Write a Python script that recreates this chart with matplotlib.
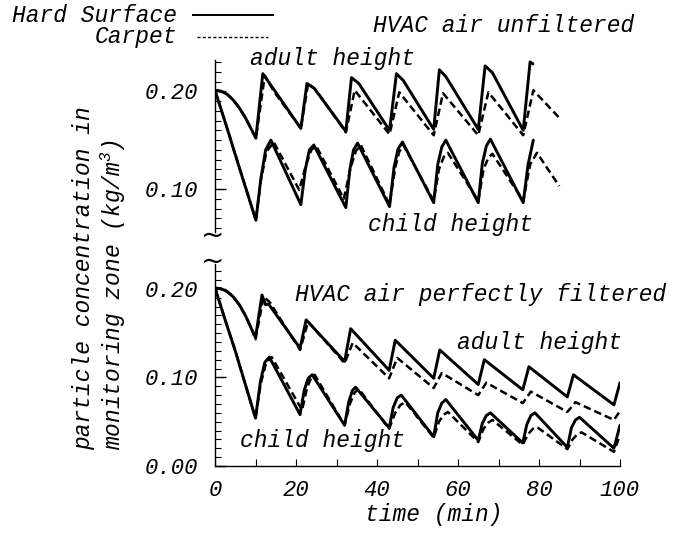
import matplotlib
matplotlib.use('Agg')
import matplotlib.pyplot as plt
from matplotlib.lines import Line2D
from matplotlib.ticker import MultipleLocator, FixedLocator

plt.rcParams['font.family'] = ['Liberation Mono', 'DejaVu Sans']
plt.rcParams['font.style'] = 'italic'
plt.rcParams['mathtext.fontset'] = 'custom'
plt.rcParams['mathtext.it'] = 'Liberation Mono:italic'
plt.rcParams['mathtext.rm'] = 'Liberation Mono:italic'

# ---- top panel: HVAC air unfiltered ----
t_top_adult_hard = [0, 1.5, 3, 4.5, 6, 7.5, 9, 10.1, 11.8, 14.0, 21.2, 22.7, 24.5, 32.3, 33.7, 35.5, 43.1,
                    44.8, 46.5, 54.0, 55.4, 57.0, 65.0, 66.7, 68.5, 76.1, 77.8, 78.5]
c_top_adult_hard = [0.201, 0.200, 0.197, 0.191, 0.183, 0.173, 0.161, 0.152, 0.218, 0.205, 0.162, 0.208,
                    0.203, 0.159, 0.214, 0.208, 0.160, 0.218, 0.211, 0.161, 0.222, 0.215, 0.161, 0.226,
                    0.219, 0.160, 0.230, 0.228]

t_top_adult_carpet = [0, 1.5, 3, 4.5, 6, 7.5, 9, 10.1, 12.3, 14.5, 21.2, 23.0, 24.8, 32.3, 34.5, 43.1,
                      45.5, 54.0, 56.3, 65.0, 67.5, 76.1, 78.6, 85.2]
c_top_adult_carpet = [0.201, 0.200, 0.197, 0.191, 0.183, 0.173, 0.161, 0.152, 0.216, 0.200, 0.162, 0.208,
                      0.202, 0.158, 0.201, 0.156, 0.199, 0.155, 0.198, 0.155, 0.199, 0.155, 0.201, 0.172]

t_top_child_hard = [0, 3, 6, 10.1, 11.3, 12.5, 13.8, 21.2, 22.3, 23.3, 24.4, 32.3, 33.3, 34.2, 35.2,
                    43.1, 44.2, 45.2, 46.3, 54.0, 55.0, 56.0, 57.0, 65.0, 66.0, 67.0, 68.0, 76.1, 77.3, 78.6]
c_top_child_hard = [0.201, 0.162, 0.122, 0.068, 0.110, 0.140, 0.150, 0.084, 0.120, 0.140, 0.145, 0.081,
                    0.120, 0.140, 0.147, 0.082, 0.122, 0.141, 0.148, 0.086, 0.125, 0.143, 0.150, 0.086,
                    0.126, 0.144, 0.151, 0.086, 0.125, 0.150]

t_top_child_carpet = [0, 3, 6, 10.1, 11.3, 12.7, 14.5, 20.8, 22.5, 23.8, 25.0, 31.8, 33.5, 34.8, 36.0,
                      43.1, 44.5, 45.5, 46.5, 54.0, 55.3, 56.5, 57.5, 65.0, 66.3, 67.5, 68.5, 76.1, 77.8,
                      79.5, 85.0]
c_top_child_carpet = [0.201, 0.162, 0.122, 0.068, 0.108, 0.138, 0.148, 0.099, 0.125, 0.140, 0.144, 0.090,
                      0.122, 0.139, 0.145, 0.084, 0.122, 0.138, 0.145, 0.088, 0.120, 0.133, 0.137, 0.088,
                      0.120, 0.132, 0.136, 0.088, 0.125, 0.137, 0.103]

# ---- bottom panel: HVAC air perfectly filtered ----
t_bot_adult_hard = [0, 1.5, 3, 4.5, 6, 7.5, 9, 10.0, 11.6, 12.5, 13.2, 21.0, 22.5, 32.0, 33.5, 43.0, 44.5,
                    54.0, 55.5, 65.0, 66.5, 76.0, 77.5, 87.0, 88.5, 98.5, 100]
c_bot_adult_hard = [0.201, 0.200, 0.197, 0.191, 0.182, 0.170, 0.155, 0.145, 0.193, 0.182, 0.183, 0.133,
                    0.165, 0.118, 0.155, 0.108, 0.142, 0.099, 0.131, 0.092, 0.120, 0.086, 0.112, 0.078,
                    0.103, 0.069, 0.094]

t_bot_adult_carpet = [0, 1.5, 3, 4.5, 6, 7.5, 9, 10.0, 12.0, 13.5, 21.0, 23.0, 32.0, 34.0, 43.0, 45.0,
                      54.0, 56.0, 65.0, 67.0, 76.0, 78.0, 87.0, 89.0, 98.5, 100]
c_bot_adult_carpet = [0.201, 0.200, 0.197, 0.191, 0.182, 0.170, 0.155, 0.143, 0.191, 0.185, 0.131, 0.163,
                      0.116, 0.139, 0.099, 0.122, 0.088, 0.105, 0.080, 0.094, 0.071, 0.084, 0.061, 0.072,
                      0.052, 0.062]

t_bot_child_hard = [0, 2.5, 5, 7.5, 10.0, 11.2, 12.3, 13.4, 21.0, 22.0, 23.0, 24.0, 32.0, 33.0, 33.9, 34.7,
                    43.0, 44.0, 45.0, 46.0, 54.0, 55.0, 56.0, 57.0, 65.0, 66.0, 67.0, 68.0, 76.0, 77.0,
                    78.0, 79.0, 87.0, 88.0, 89.0, 90.0, 98.5, 100]
c_bot_child_hard = [0.201, 0.165, 0.130, 0.092, 0.054, 0.095, 0.117, 0.123, 0.058, 0.085, 0.099, 0.103,
                    0.046, 0.072, 0.085, 0.089, 0.043, 0.066, 0.077, 0.080, 0.033, 0.060, 0.071, 0.075,
                    0.029, 0.048, 0.057, 0.060, 0.026, 0.047, 0.057, 0.060, 0.021, 0.043, 0.052, 0.055,
                    0.020, 0.046]

t_bot_child_carpet = [0, 2.5, 5, 7.5, 10.0, 11.3, 12.6, 14.0, 21.5, 22.7, 23.7, 24.6, 32.0, 33.3, 34.5,
                      35.5, 43.0, 44.5, 45.8, 47.0, 54.0, 55.3, 56.5, 57.5, 65.0, 66.3, 67.5, 68.5, 76.0,
                      77.3, 78.5, 79.5, 87.0, 88.3, 89.5, 90.5, 98.5, 100]
c_bot_child_carpet = [0.201, 0.165, 0.130, 0.092, 0.054, 0.093, 0.116, 0.123, 0.063, 0.088, 0.099, 0.103,
                      0.046, 0.070, 0.083, 0.087, 0.042, 0.060, 0.069, 0.072, 0.032, 0.050, 0.058, 0.061,
                      0.027, 0.042, 0.049, 0.052, 0.024, 0.036, 0.042, 0.044, 0.019, 0.030, 0.036, 0.038,
                      0.016, 0.035]

x_ticks = [0, 20, 40, 60, 80, 100]
y_ticks_top = [0.10, 0.20]
y_ticks_bot = [0.00, 0.10, 0.20]

W, H = 682, 535
fig = plt.figure(figsize=(W / 100, H / 100), dpi=100)

def box(x0, y0, x1, y1):
    # pixel box (top-left origin) -> figure fraction
    return [x0 / W, 1 - y1 / H, (x1 - x0) / W, (y1 - y0) / H]

ax1 = fig.add_axes(box(215, 60, 620, 232))
ax2 = fig.add_axes(box(215, 264, 620, 466))

solid = dict(color='black', lw=2.1, solid_joinstyle='round', solid_capstyle='round')
dashed = dict(color='black', lw=1.8, dashes=(3, 1.6))

ax1.plot(t_top_adult_hard, c_top_adult_hard, **solid)
ax1.plot(t_top_adult_carpet, c_top_adult_carpet, **dashed)
ax1.plot(t_top_child_hard, c_top_child_hard, **solid)
ax1.plot(t_top_child_carpet, c_top_child_carpet, **dashed)

ax2.plot(t_bot_adult_hard, c_bot_adult_hard, **solid)
ax2.plot(t_bot_adult_carpet, c_bot_adult_carpet, **dashed)
ax2.plot(t_bot_child_hard, c_bot_child_hard, **solid)
ax2.plot(t_bot_child_carpet, c_bot_child_carpet, **dashed)

ax1.set_xlim(0, 100)
ax2.set_xlim(0, 100)
ax1.set_ylim(0.056, 0.232)
ax2.set_ylim(0.0, 0.228)

for ax in (ax1, ax2):
    ax.spines['top'].set_visible(False)
    ax.spines['right'].set_visible(False)
    ax.spines['left'].set_linewidth(1.0)
    ax.yaxis.set_major_locator(FixedLocator(y_ticks_top if ax is ax1 else y_ticks_bot))
    ax.yaxis.set_minor_locator(MultipleLocator(0.01))
    ax.yaxis.set_major_formatter(matplotlib.ticker.FormatStrFormatter('%.2f'))
    ax.tick_params(axis='y', which='major', direction='in', length=8, width=1.0, pad=12, labelsize=16)
    ax.tick_params(axis='y', which='minor', direction='in', length=4, width=0.8)
    ax.patch.set_visible(False)

ax1.spines['bottom'].set_visible(False)
ax1.tick_params(axis='x', which='both', bottom=False, labelbottom=False)

ax2.spines['bottom'].set_linewidth(1.0)
ax2.xaxis.set_major_locator(FixedLocator(x_ticks))
ax2.xaxis.set_minor_locator(MultipleLocator(10))
ax2.tick_params(axis='x', which='major', direction='in', length=5, width=0.8, pad=10, labelsize=16)
ax2.tick_params(axis='x', which='minor', direction='in', length=5, width=0.8)

fs = 16.5
def ftext(x, y, s, **kw):
    fig.text(x / W, 1 - y / H, s, fontsize=kw.pop('fontsize', fs), **kw)

# axis labels
ftext(434, 515, 'time (min)', ha='center', va='center')
ftext(84, 450, 'particle concentration in', rotation=90, ha='center', va='bottom')
ftext(113, 450, 'monitoring zone (kg/m$^{3}$)', rotation=90, ha='center', va='bottom')

# legend
ftext(177, 15, 'Hard Surface', ha='right', va='center')
ftext(177, 37, 'Carpet', ha='right', va='center')
fig.add_artist(Line2D([193 / W, 273 / W], [1 - 15 / H, 1 - 15 / H], color='black', lw=1.4))
fig.add_artist(Line2D([197 / W, 268 / W], [1 - 37 / H, 1 - 37 / H], color='black', lw=1.0,
                      dashes=(2.2, 1.6)))

# annotations
ftext(373, 25, 'HVAC air unfiltered', ha='left', va='center')
ftext(250, 58, 'adult height', ha='left', va='center')
ftext(368, 225, 'child height', ha='left', va='center')
ftext(295, 295, 'HVAC air perfectly filtered', ha='left', va='center')
ftext(457, 343, 'adult height', ha='left', va='center')
ftext(240, 440, 'child height', ha='left', va='center')

# axis break marks
ftext(213, 236, '~', ha='center', va='center', fontsize=20, family='DejaVu Sans', style='normal')
ftext(213, 262, '~', ha='center', va='center', fontsize=20, family='DejaVu Sans', style='normal')

fig.savefig('out.png', dpi=100)
